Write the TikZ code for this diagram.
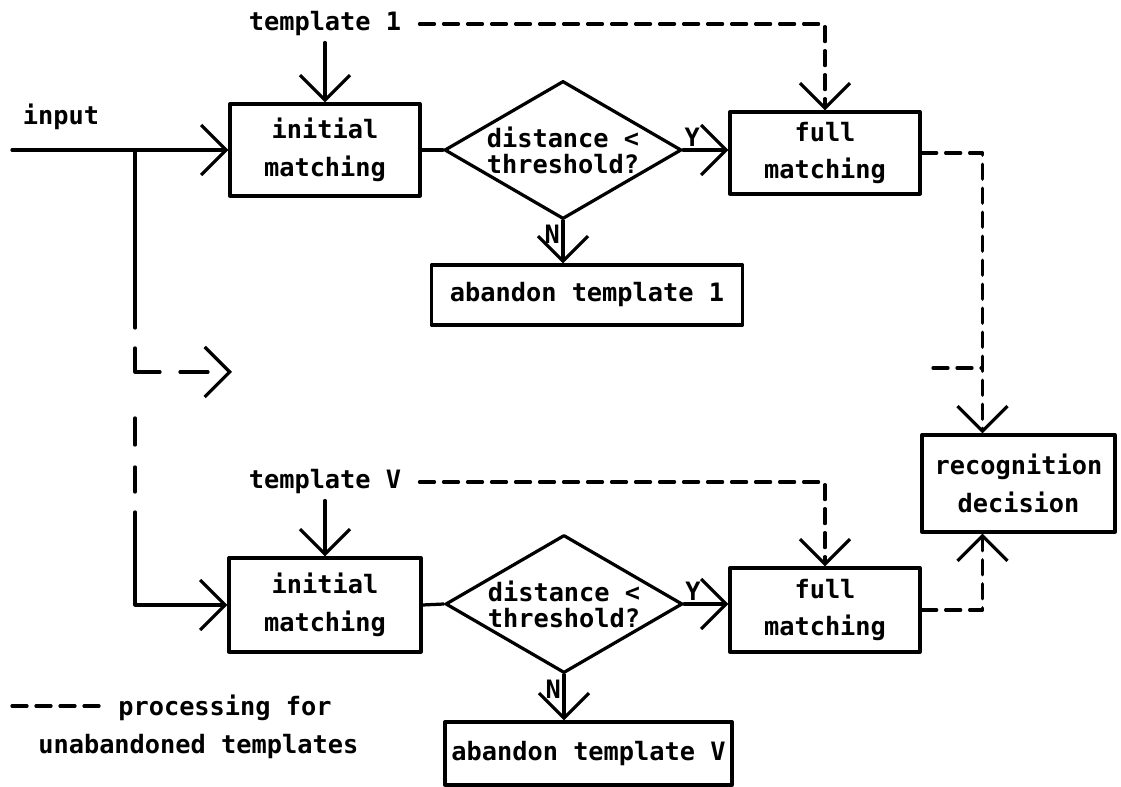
\documentclass[tikz,border=0pt]{standalone}
\usepackage{fontspec}
\setmonofont{DejaVu Sans Mono}
\usetikzlibrary{arrows.meta,shapes.geometric,positioning}

\begin{document}
\begin{tikzpicture}[x=0.025cm,y=-0.025cm,>={Straight Barb[length=6.25mm,width=12.5mm]},
 line width=2.3pt,line cap=round,line join=round,
 font=\fontsize{18}{27}\selectfont\ttfamily\bfseries,
 stage/.style={draw,rectangle,align=center,inner sep=2pt},
 test/.style={draw,diamond,align=center,inner sep=0pt,aspect=1.72,
  minimum width=5.925cm,minimum height=3.45cm,
  font=\fontsize{18}{18.5}\selectfont\ttfamily\bfseries},
 flowdash/.style={dash pattern=on 0.375cm off 0.225cm},
 yn/.style={inner sep=1pt}]
 \useasboundingbox (0,0) rectangle (1121,787);

 \node[stage,minimum width=4.75cm,minimum height=2.3cm] (init1) at (325,150) {initial\\matching};
 \node[test] (dec1) at (563,150) {distance <\\threshold?};
 \node[stage,minimum width=4.75cm,minimum height=2.05cm] (full1) at (825,153) {full\\matching};
 \node[stage,minimum width=7.775cm,minimum height=1.5cm] (drop1) at (587,295) {abandon template 1};
 \node (tmpl1) at (325,24) {template 1};
 \node (input) at (61,117) {input};

 \node[stage,minimum width=4.8cm,minimum height=2.35cm] (init2) at (325,605) {initial\\matching};
 \node[test] (dec2) at (564,604) {distance <\\threshold?};
 \node[stage,minimum width=4.75cm,minimum height=2.1cm] (full2) at (825,610) {full\\matching};
 \node[stage,minimum width=7.175cm,minimum height=1.575cm] (drop2) at (588.5,753.5) {abandon template V};
 \node (tmplV) at (325,482) {template V};

 \node[stage,minimum width=4.825cm,minimum height=2.425cm] (decide) at (1018.5,483.5) {recognition\\decision};

 \node[anchor=west] (key1) at (112,708) {processing for};
 \node[anchor=west] (key2) at (32,747) {unabandoned templates};
 \draw[flowdash] (12,706) -- (100,706);

 \coordinate (src) at (12,150);
 \coordinate (split) at (135,150);
 \draw[->] (src) -- (init1.west);
 \draw[->] (tmpl1.south) -- (init1.north);
 \draw (init1.east) -- (dec1.west);
 \draw[->] (dec1.east) -- node[yn,pos=.2,above] {Y} (dec1.east -| full1.west);
 \draw[->] (dec1.south) -- node[yn,pos=.32,left] {N} (dec1.south |- drop1.north);
 \draw[flowdash,->] ([xshift=.3cm]tmpl1.east) -| (full1.north);
 \draw[flowdash,->] (full1.east) -| ([xshift=-.9cm]decide.north);

 \draw (split) -- (135,328);
 \draw (135,348) -- (135,372) -- (160,372);
 \draw[->,dash pattern=on 0.7cm off 2cm] (180,372) -- (232,372);
 \draw (135,418) -- (135,445);
 \draw (135,467) -- (135,492);
 \draw[->] (135,512) |- (init2.west);
 \draw[flowdash] (933,368) -- (982,368);

 \draw[->] (tmplV.south) -- (init2.north);
 \draw (init2.east) -- (dec2.west);
 \draw[->] (dec2.east) -- node[yn,pos=.2,above] {Y} (dec2.east -| full2.west);
 \draw[->] (dec2.south) -- node[yn,pos=.32,left] {N} (dec2.south |- drop2.north);
 \draw[flowdash,->] ([xshift=.3cm]tmplV.east) -| (full2.north);
 \draw[flowdash,->] (full2.east) -| ([xshift=-.9cm]decide.south);
\end{tikzpicture}
\end{document}
